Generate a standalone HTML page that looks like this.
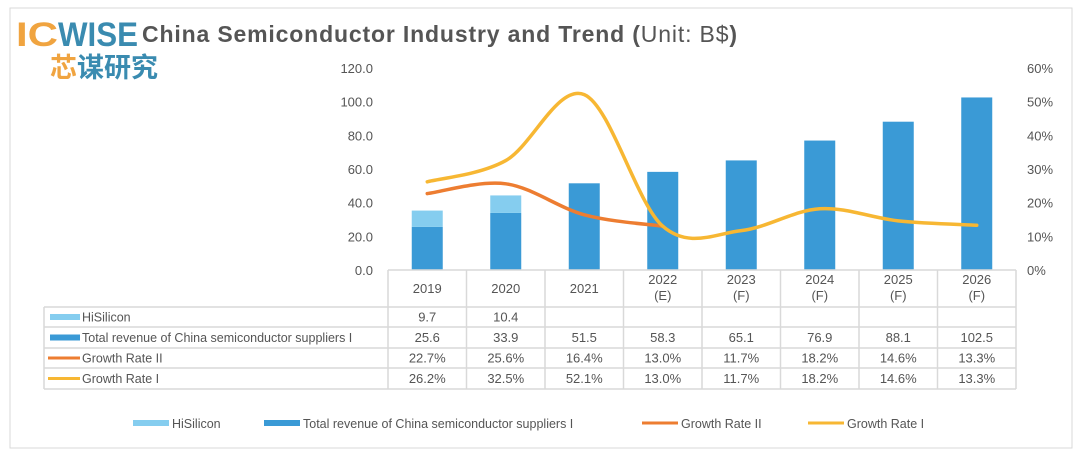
<!DOCTYPE html>
<html><head><meta charset="utf-8"><style>
body{margin:0;background:#fff;width:1080px;height:453px;overflow:hidden;font-family:"Liberation Sans","Noto Sans CJK SC",sans-serif}
svg text{font-family:"Liberation Sans","Noto Sans CJK SC",sans-serif}
</style></head><body>
<svg id="c" width="1080" height="453" xmlns="http://www.w3.org/2000/svg">
<rect x="10" y="8" width="1062" height="440" fill="#fff" stroke="#d9d9d9"/>
<g>
<text x="16" y="46" font-size="34" font-weight="bold" fill="#f0a440" textLength="42" lengthAdjust="spacingAndGlyphs">IC</text>
<text x="58" y="46" font-size="34" font-weight="bold" fill="#3a8bb0" textLength="80" lengthAdjust="spacingAndGlyphs">WISE</text>
<text x="50" y="77" font-size="27" font-weight="bold" fill="#f0a440">芯</text>
<text x="77" y="77" font-size="27" font-weight="bold" fill="#3a8bb0">谋研究</text>
</g>
<text x="142" y="42" font-size="23" font-weight="bold" fill="#555" textLength="595" lengthAdjust="spacing">China Semiconductor Industry and Trend (<tspan font-weight="normal">Unit: B$</tspan>)</text>
<g id="axes"></g><g id="bars"></g><g id="lines"></g><g id="table"></g><g id="legend"></g>
</svg>
<script>
const categories=["2019","2020","2021","2022","2023","2024","2025","2026"];
const catSub=["","","","(E)","(F)","(F)","(F)","(F)"];
const hisilicon=[9.7,10.4,null,null,null,null,null,null];
const totalRevenue=[25.6,33.9,51.5,58.3,65.1,76.9,88.1,102.5];
const growth2=[22.7,25.6,16.4,13.0,11.7,18.2,14.6,13.3];
const growth1=[26.2,32.5,52.1,13.0,11.7,18.2,14.6,13.3];
const growth2Drawn=4;
const leftTicks=["0.0","20.0","40.0","60.0","80.0","100.0","120.0"];
const rightTicks=["0%","10%","20%","30%","40%","50%","60%"];
const NS="http://www.w3.org/2000/svg";
const X0=388,CW=78.5,Y0=270,YT=68;
const xc=i=>X0+CW*(i+0.5);
const yl=v=>Y0-(v/120)*(Y0-YT);
const yr=v=>Y0-(v/60)*(Y0-YT);
function el(p,t,a){const e=document.createElementNS(NS,t);for(const k in a)e.setAttribute(k,a[k]);p.appendChild(e);return e;}
const ax=document.getElementById('axes');
leftTicks.forEach((t,i)=>{const e=el(ax,'text',{x:373,y:yl(i*20)+5,'font-size':13,fill:'#555','text-anchor':'end'});e.textContent=t;

});
rightTicks.forEach((t,i)=>{const e=el(ax,'text',{x:1027,y:yr(i*10)+5,'font-size':13,fill:'#555'});e.textContent=t;

});
const bg=document.getElementById('bars');
totalRevenue.forEach((v,i)=>{const r=el(bg,'rect',{x:xc(i)-15.5,y:yl(v),width:31,height:Y0-yl(v),fill:'#3a9ad6'});


if(hisilicon[i]!=null){const h=el(bg,'rect',{x:xc(i)-15.5,y:yl(v+hisilicon[i]),width:31,height:yl(v)-yl(v+hisilicon[i]),fill:'#85cdef'});

}});
function smooth(pts){let d=`M${pts[0][0]},${pts[0][1]}`;for(let i=0;i<pts.length-1;i++){const p0=pts[Math.max(i-1,0)],p1=pts[i],p2=pts[i+1],p3=pts[Math.min(i+2,pts.length-1)];
d+=` C${p1[0]+(p2[0]-p0[0])/6},${p1[1]+(p2[1]-p0[1])/6} ${p2[0]-(p3[0]-p1[0])/6},${p2[1]-(p3[1]-p1[1])/6} ${p2[0]},${p2[1]}`;}return d;}
const lg=document.getElementById('lines');
const l2=el(lg,'path',{d:smooth(growth2.slice(0,growth2Drawn).map((v,i)=>[xc(i),yr(v)])),fill:'none',stroke:'#ed7d31','stroke-width':3.5,'stroke-linecap':'round'});


const l1=el(lg,'path',{d:smooth(growth1.map((v,i)=>[xc(i),yr(v)])),fill:'none',stroke:'#f7b733','stroke-width':3.5,'stroke-linecap':'round'});


const tg=document.getElementById('table');
const rowsY=[270,307,327,348,368,389];const TL=44,TR=X0+CW*8;
const st={stroke:'#d9d9d9','stroke-width':1.5};
for(let r=1;r<rowsY.length;r++)el(tg,'line',Object.assign({x1:TL,x2:TR,y1:rowsY[r],y2:rowsY[r]},st));
el(tg,'line',Object.assign({x1:X0,x2:TR,y1:270,y2:270},st));
el(tg,'line',Object.assign({x1:TL,x2:TL,y1:307,y2:389},st));
for(let i=0;i<=8;i++)el(tg,'line',Object.assign({x1:X0+CW*i,x2:X0+CW*i,y1:270,y2:389},st));
categories.forEach((c,i)=>{const t=el(tg,'text',{x:xc(i),y:catSub[i]?284:293,'font-size':13,fill:'#555','text-anchor':'middle'});t.textContent=c;


if(catSub[i]){const s=el(tg,'text',{x:xc(i),y:300,'font-size':13,fill:'#555','text-anchor':'middle'});s.textContent=catSub[i];

}});
const rowNames=["HiSilicon","Total revenue of China semiconductor suppliers I","Growth Rate II","Growth Rate I"];
const rowVals=[hisilicon.map(v=>v==null?"":v.toFixed(1)),totalRevenue.map(v=>v.toFixed(1)),growth2.map(v=>v.toFixed(1)+"%"),growth1.map(v=>v.toFixed(1)+"%")];
const keys=[['#85cdef',6],['#3a9ad6',6],['#ed7d31',3],['#f7b733',3]];
rowNames.forEach((n,r)=>{const yc=(rowsY[r+1]+rowsY[r+2])/2;
const k=el(tg,'rect',{x:r>=2?48:50,y:yc-keys[r][1]/2,width:r>=2?32:30,height:keys[r][1],fill:keys[r][0]});


const t=el(tg,'text',{x:82,y:yc+4.5,'font-size':12.5,fill:'#555'});t.textContent=n;


rowVals[r].forEach((v,i)=>{const c=el(tg,'text',{x:xc(i),y:yc+4.5,'font-size':13,fill:'#555','text-anchor':'middle'});c.textContent=v;

});});
const lgd=document.getElementById('legend');
const items=[[133,rowNames[0],'#85cdef',6,36],[264,rowNames[1],'#3a9ad6',6,36],[642,rowNames[2],'#ed7d31',3,36],[808,rowNames[3],'#f7b733',3,36]];
items.forEach(it=>{const k=el(lgd,'rect',{x:it[0],y:423-it[3]/2,width:it[4],height:it[3],fill:it[2]});


const t=el(lgd,'text',{x:it[0]+it[4]+3,y:428,'font-size':12.5,fill:'#555'});t.textContent=it[1];

});
</script>
</body></html>
